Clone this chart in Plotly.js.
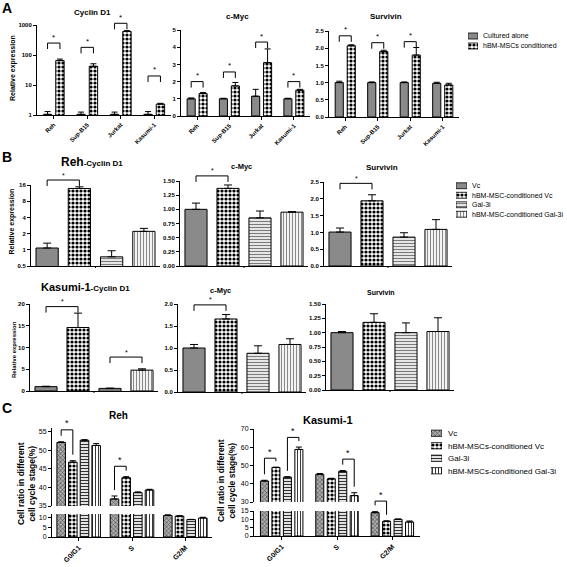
<!DOCTYPE html>
<html><head><meta charset="utf-8">
<script src="https://cdn.plot.ly/plotly-3.0.1.min.js"></script>
<style>html,body{margin:0;padding:0;background:#fff;}#chart{width:567px;height:567px;}</style>
</head><body><div id="chart"></div>
<script>
// ================= DATA =================
// Panel A
const cellLines = ["Reh","Sup-B15","Jurkat","Kasumi-1"];
const groupsA = ["Cultured alone","hBM-MSCs conditioned"];
const aCyclinAlone = [1.05,1.05,1.05,1.05];
const aCyclinAloneErr = [0.25,0.2,0.2,0.25];
const aCyclinCond = [65,42,610,2.3];
const aCyclinCondErr = [8,9,40,0.15];
const aMycAlone = [1.0,1.0,1.15,1.0];
const aMycAloneErr = [0.05,0.03,0.4,0.03];
const aMycCond = [1.3,1.75,3.1,1.5];
const aMycCondErr = [0.07,0.2,0.8,0.05];
const aSurvAlone = [1.0,1.0,1.0,0.98];
const aSurvAloneErr = [0.04,0.02,0.02,0.03];
const aSurvCond = [2.07,1.9,1.8,0.93];
const aSurvCondErr = [0.03,0.04,0.22,0.05];
// significance: [cell line index, bracket level]
const aCyclinSig = [[0,250],[1,180],[2,1140],[3,20]];
const aMycSig = [[0,2.0],[1,2.56],[2,4.3],[3,2.0]];
const aSurvSig = [[0,2.36],[1,2.16],[2,2.19]];

// Panel B
const groupsB = ["Vc","hBM-MSC-conditioned Vc","Gal-3i","hBM-MSC-conditioned Gal-3i"];
const bRehCyclin = [1.08,13.8,0.74,2.2];
const bRehCyclinErr = [0.25,1.0,0.22,0.3];
const bRehMyc = [1.0,1.37,0.85,0.95];
const bRehMycErr = [0.11,0.06,0.12,0.01];
const bRehSurv = [1.01,1.94,0.86,1.09];
const bRehSurvErr = [0.12,0.18,0.13,0.29];
const bKasCyclin = [1.0,14.6,0.6,4.8];
const bKasCyclinErr = [0.1,3.3,0.05,0.3];
const bKasMyc = [1.0,1.66,0.88,1.08];
const bKasMycErr = [0.08,0.1,0.17,0.13];
const bKasSurv = [1.0,1.18,1.0,1.02];
const bKasSurvErr = [0.02,0.15,0.17,0.24];
// significance: [bar a, bar b, level]
const bRehCyclinSig = [[0,1,19.8]];
const bRehMycSig = [[0,1,1.59]];
const bRehSurvSig = [[0,1,2.46]];
const bKasCyclinSig = [[0,1,19.4],[2,3,7.8]];
const bKasMycSig = [[0,1,1.98]];

// Panel C
const phases = ["G0/G1","S","G2/M"];
const groupsC = ["Vc","hBM-MSCs-conditioned Vc","Gal-3i","hBM-MSCs-conditioned Gal-3i"];
const cRehVc = [52.1,36.9,11.2];
const cRehVcErr = [0.2,0.8,0.4];
const cRehCondVc = [46.8,42.6,10.9];
const cRehCondVcErr = [0.4,0.3,0.2];
const cRehGal = [52.7,38.6,9.1];
const cRehGalErr = [0.15,0.2,0.1];
const cRehCondGal = [51.3,39.3,9.9];
const cRehCondGalErr = [0.5,0.2,0.4];
const cKasVc = [41.5,45.2,14.0];
const cKasVcErr = [0.4,0.4,0.8];
const cKasCondVc = [48.9,42.7,8.8];
const cKasCondVcErr = [0.2,0.3,0.3];
const cKasGal = [43.6,46.8,10.0];
const cKasGalErr = [0.2,0.4,0.2];
const cKasCondGal = [58.8,33.5,8.4];
const cKasCondGalErr = [1.3,1.6,0.6];
// significance: [phase index, bar a, bar b, level]
const cRehSig = [[0,0,1,55.5],[1,0,1,45.7]];
const cKasSig = [[0,0,1,54],[0,2,3,65.4],[1,2,3,53.5],[2,0,1,30.5]];

// ================= STYLE / LAYOUT HELPERS =================
const W = 567, H = 567;
const FONT = '"Liberation Sans", Arial, sans-serif';
const X = p => p / W, Y = p => 1 - p / H;
const layout = {width:W, height:H, margin:{l:0,r:0,t:0,b:0}, paper_bgcolor:'#fff', plot_bgcolor:'rgba(0,0,0,0)',
  showlegend:false, barmode:'overlay', annotations:[], shapes:[], font:{family:FONT, color:'#000'}};
const traces = [];
const S = {
  grey:{color:'#8a8a8a'},
  checker:{color:'#ffffff', pattern:{shape:'.', fgcolor:'#000000', bgcolor:'#ffffff', size:4, solidity:0.5}},
  hlines:{color:'#e4e4e4', pattern:{shape:'-', fgcolor:'#7a7a7a', bgcolor:'#e6e6e6', size:3, solidity:0.35}},
  vlines:{color:'#f0f0f0', pattern:{shape:'|', fgcolor:'#8a8a8a', bgcolor:'#f3f3f3', size:3, solidity:0.35}},
  crossGrey:{color:'#a0a0a0', pattern:{shape:'x', fgcolor:'#555555', bgcolor:'#ababab', size:3, solidity:0.4}},
  hlinesC:{color:'#dddddd', pattern:{shape:'-', fgcolor:'#333333', bgcolor:'#e2e2e2', size:3, solidity:0.35}},
  vlinesC:{color:'#ffffff', pattern:{shape:'|', fgcolor:'#222222', bgcolor:'#ffffff', size:3, solidity:0.3}}
};
const axBase = {showline:true, linecolor:'#000', linewidth:1, ticks:'outside', ticklen:3, tickwidth:1, tickcolor:'#000',
  showgrid:false, zeroline:false, fixedrange:true};
let axN = 0;
function newAxes(xDom, yDom, xo, yo){
  axN++;
  const xk = axN===1?'xaxis':'xaxis'+axN, yk = axN===1?'yaxis':'yaxis'+axN;
  const xr = axN===1?'x':'x'+axN, yr = axN===1?'y':'y'+axN;
  layout[xk] = Object.assign({domain:xDom, anchor:yr}, xo);
  layout[yk] = Object.assign({domain:yDom, anchor:xr}, yo);
  return {x:xr, y:yr};
}
const errBar = (err, w) => ({type:'data', symmetric:false, array:err, arrayminus:err.map(()=>0), color:'#000', thickness:1, width:w, visible:true});
function linTicks(dtick, fmt){ return {tickmode:'linear', tick0:0, dtick:dtick, tickformat:fmt}; }

function buildPanel(cfg){
  const n = cfg.cats.length, m = cfg.series.length;
  const slot = cfg.perCat ? cfg.gw : cfg.gw/m;
  cfg.center = j => cfg.perCat ? 0 : (-cfg.gw/2 + slot*(j+0.5));
  cfg.segs.forEach((sg, si) => {
    const bottom = si === cfg.segs.length-1;
    const xcat = {type:'category', categoryarray:cfg.cats, categoryorder:'array', range:[-0.5, n-0.5]};
    const xo = bottom ? Object.assign({}, axBase, xcat, {tickfont:cfg.xtickfont, tickangle:cfg.xtickangle,
        showticklabels:!cfg.hideX, ticks:cfg.hideX?'':'outside'})
      : Object.assign({}, xcat, {visible:false, fixedrange:true});
    const yo = Object.assign({}, axBase, {type:sg.log?'log':'linear', range:sg.range, tickfont:cfg.ytickfont}, sg.ticks);
    const ref = newAxes([X(cfg.xpx[0]), X(cfg.xpx[1])], [Y(sg.ypx[1]), Y(sg.ypx[0])], xo, yo);
    cfg.series.forEach((s, j) => {
      traces.push({type:'bar', x: cfg.perCat ? [cfg.cats[j]] : cfg.cats, y: s.y, xaxis:ref.x, yaxis:ref.y,
        width:cfg.bw, offset:cfg.center(j) - cfg.bw/2,
        marker:Object.assign({line:{color:'#000', width:1}}, s.style),
        error_y:errBar(s.err, cfg.errW), hoverinfo:'skip', showlegend:false});
    });
  });
  if (cfg.perCat){ // small middle tick as in the original figure
    const mid = (cfg.xpx[0]+cfg.xpx[1])/2, yb = cfg.segs[cfg.segs.length-1].ypx[1];
    layout.shapes.push({type:'line', xref:'paper', yref:'paper', x0:X(mid), x1:X(mid), y0:Y(yb), y1:Y(yb+2), line:{color:'#000', width:1}});
  }
  (cfg.sig||[]).forEach(sg => drawSig(cfg, sg.a, sg.b, sg.level));
}
function yPx(cfg, v){
  let sg = cfg.segs[0];
  for (let i = cfg.segs.length-1; i >= 0; i--){
    const s = cfg.segs[i]; const hi = s.log ? Math.pow(10, s.range[1]) : s.range[1];
    if (v <= hi){ sg = s; break; }
  }
  const t = sg.log ? Math.log10(v) : v;
  return sg.ypx[1] - (t - sg.range[0])/(sg.range[1]-sg.range[0])*(sg.ypx[1]-sg.ypx[0]);
}
function xPx(cfg, c, j){
  const n = cfg.cats.length;
  return cfg.xpx[0] + (c + 0.5 + cfg.center(j))/n*(cfg.xpx[1]-cfg.xpx[0]);
}
function barTop(cfg, c, j){
  const s = cfg.series[j]; const k = cfg.perCat ? 0 : c;
  return s.y[k] + s.err[k];
}
function drawSig(cfg, a, b, level){
  const yb = yPx(cfg, level);
  const xa = xPx(cfg, a[0], a[1]), xb = xPx(cfg, b[0], b[1]);
  let la, lb;
  if (cfg.legs === 'bar'){
    la = Math.max(yb+3, yPx(cfg, barTop(cfg, a[0], a[1])) - 6);
    lb = Math.max(yb+3, yPx(cfg, barTop(cfg, b[0], b[1])) - 6);
  } else { la = lb = yb + cfg.legLen; }
  layout.shapes.push({type:'path', xref:'paper', yref:'paper',
    path:`M${X(xa)},${Y(la)} L${X(xa)},${Y(yb)} L${X(xb)},${Y(yb)} L${X(xb)},${Y(lb)}`, line:{color:'#000', width:1}});
  layout.annotations.push({xref:'paper', yref:'paper', x:X((xa+xb)/2), y:Y(yb-0.5), xanchor:'center', yanchor:'bottom',
    text:'*', showarrow:false, borderpad:0, font:{family:FONT, size:cfg.starSize||8, color:'#000'}});
}
function buildLegend(cfg){
  const n = cfg.labels.length;
  const ref = newAxes([X(cfg.xpx[0]), X(cfg.xpx[1])], [Y(cfg.ypx[1]), Y(cfg.ypx[0])],
    {range:[0,1], visible:false, fixedrange:true},
    {type:'category', categoryarray:cfg.labels, categoryorder:'array', range:[n-0.5,-0.5], side:'right', showline:false,
     showgrid:false, zeroline:false, ticks:'', ticklabelstandoff:cfg.standoff, fixedrange:true,
     tickfont:{family:FONT, size:cfg.font, color:'#000'}});
  cfg.labels.forEach((lab, j) => traces.push({type:'bar', orientation:'h', x:[1], y:[lab], width:cfg.bw, offset:-cfg.bw/2,
    xaxis:ref.x, yaxis:ref.y, marker:Object.assign({line:{color:'#000', width:0.8}}, cfg.styles[j]), hoverinfo:'skip', showlegend:false}));
}
function text(t, x, y, size, opts){
  layout.annotations.push(Object.assign({xref:'paper', yref:'paper', x:X(x), y:Y(y), xanchor:'center', yanchor:'middle',
    text:t, showarrow:false, font:{family:FONT, size:size, color:'#000'}}, opts||{}));
}

// ================= PANEL A =================
const tfA = {family:FONT, size:6, color:'#000', weight:'bold'};
const aSig = arr => arr.map(([c,l]) => ({a:[c,0], b:[c,1], level:l}));
const aCommon = {cats:cellLines, gw:0.74, bw:0.25, errW:3, xtickfont:tfA, ytickfont:tfA, xtickangle:-45, legs:'fixed', legLen:6};
buildPanel(Object.assign({}, aCommon, {xpx:[37,171],
  segs:[{ypx:[25,115], range:[0,3], log:true, ticks:{tickmode:'array', tickvals:[1,10,100,1000], ticktext:['1','10','100','1000']}}],
  series:[{y:aCyclinAlone, err:aCyclinAloneErr, style:S.grey},{y:aCyclinCond, err:aCyclinCondErr, style:S.checker}],
  sig:aSig(aCyclinSig)}));
buildPanel(Object.assign({}, aCommon, {xpx:[181,310],
  segs:[{ypx:[30,116], range:[0,5], ticks:linTicks(1,'d')}],
  series:[{y:aMycAlone, err:aMycAloneErr, style:S.grey},{y:aMycCond, err:aMycCondErr, style:S.checker}],
  sig:aSig(aMycSig)}));
buildPanel(Object.assign({}, aCommon, {xpx:[329,459],
  segs:[{ypx:[31,117], range:[0,2.5], ticks:linTicks(0.5,'.1f')}],
  series:[{y:aSurvAlone, err:aSurvAloneErr, style:S.grey},{y:aSurvCond, err:aSurvCondErr, style:S.checker}],
  sig:aSig(aSurvSig)}));
buildLegend({labels:groupsA, styles:[S.grey, S.checker], xpx:[468,478], ypx:[31,51], bw:0.6, font:7, standoff:4});
text('<b>A</b>', 7, 8, 14);
text('<b>Cyclin D1</b>', 92, 13, 8);
text('<b>c-Myc</b>', 237, 16, 8);
text('<b>Survivin</b>', 386, 17, 8);
text('<b>Relative expression</b>', 13, 68, 7, {textangle:-90});

// ================= PANEL B =================
const bStyles = [S.grey, S.checker, S.hlines, S.vlines];
const bSeries = (vals, errs) => vals.map((v,j) => ({y:[v], err:[errs[j]], style:bStyles[j]}));
const bSig = arr => arr.map(([a,b,l]) => ({a:[a,a], b:[b,b], level:l}));
const bCommon = {cats:groupsB, perCat:true, gw:0.69, bw:0.69, errW:4, hideX:true, ytickfont:tfA, legs:'fixed', legLen:6, starSize:7};
buildPanel(Object.assign({}, bCommon, {xpx:[31,160],
  segs:[{ypx:[185,266], range:[Math.log10(0.5), Math.log10(16)], log:true,
    ticks:{tickmode:'array', tickvals:[0.5,1,2,4,8,16], ticktext:['0.5','1','2','4','8','16']}}],
  series:bSeries(bRehCyclin, bRehCyclinErr), sig:bSig(bRehCyclinSig)}));
buildPanel(Object.assign({}, bCommon, {xpx:[180,308],
  segs:[{ypx:[181,266], range:[0,1.5], ticks:linTicks(0.25,'.2f')}],
  series:bSeries(bRehMyc, bRehMycErr), sig:bSig(bRehMycSig)}));
buildPanel(Object.assign({}, bCommon, {xpx:[324,452],
  segs:[{ypx:[182,266], range:[0,2.5], ticks:linTicks(0.5,'.1f')}],
  series:bSeries(bRehSurv, bRehSurvErr), sig:bSig(bRehSurvSig)}));
buildPanel(Object.assign({}, bCommon, {xpx:[30,158],
  segs:[{ypx:[304,391], range:[0,20], ticks:linTicks(5,'d')}],
  series:bSeries(bKasCyclin, bKasCyclinErr), sig:bSig(bKasCyclinSig)}));
buildPanel(Object.assign({}, bCommon, {xpx:[178,306],
  segs:[{ypx:[304,392], range:[0,2], ticks:linTicks(0.5,'.1f')}],
  series:bSeries(bKasMyc, bKasMycErr), sig:bSig(bKasMycSig)}));
buildPanel(Object.assign({}, bCommon, {xpx:[326,454],
  segs:[{ypx:[304,390], range:[0,1.5], ticks:linTicks(0.25,'.2f')}],
  series:bSeries(bKasSurv, bKasSurvErr), sig:[]}));
buildLegend({labels:groupsB, styles:bStyles, xpx:[456,467], ypx:[181,219], bw:0.62, font:7, standoff:4});
text('<b>B</b>', 7, 157, 14);
text('<b><span style="font-size:12px">Reh</span>-Cyclin D1</b>', 92, 162, 8);
text('<b>c-Myc</b>', 241, 166, 7.5);
text('<b>Survivin</b>', 382, 167, 8);
text('<b><span style="font-size:11px">Kasumi-1</span>-Cyclin D1</b>', 85, 287, 8);
text('<b>c-Myc</b>', 220, 290, 7.5);
text('<b>Survivin</b>', 381, 292, 7);
text('<b>Relative expression</b>', 11.5, 222, 7, {textangle:-90});
text('<b>Relative expression</b>', 14, 350, 6, {textangle:-90});

// ================= PANEL C =================
const cStyles = [S.crossGrey, S.checker, S.hlinesC, S.vlinesC];
const tfC = {family:FONT, size:7, color:'#000'};
const tfCx = {family:FONT, size:7, color:'#000', weight:'bold'};
const cSig = arr => arr.map(([c,a,b,l]) => ({a:[c,a], b:[c,b], level:l}));
const cCommon = {cats:phases, errW:3, xtickfont:tfCx, ytickfont:tfC, xtickangle:-45, legs:'bar', starSize:9};
buildPanel(Object.assign({}, cCommon, {xpx:[52,212], gw:0.875, bw:0.16,
  segs:[{ypx:[428,506], range:[35,56], ticks:{tickmode:'array', tickvals:[35,40,45,50,55]}},
        {ypx:[514,537], range:[0,12], ticks:{tickmode:'array', tickvals:[0,5,10]}}],
  series:[{y:cRehVc, err:cRehVcErr, style:cStyles[0]},{y:cRehCondVc, err:cRehCondVcErr, style:cStyles[1]},
          {y:cRehGal, err:cRehGalErr, style:cStyles[2]},{y:cRehCondGal, err:cRehCondGalErr, style:cStyles[3]}],
  sig:cSig(cRehSig)}));
buildPanel(Object.assign({}, cCommon, {xpx:[254,420], gw:0.83, bw:0.145,
  segs:[{ypx:[429,502], range:[30,70], ticks:{tickmode:'array', tickvals:[30,40,50,60,70]}},
        {ypx:[511,536], range:[0,15], ticks:{tickmode:'array', tickvals:[0,5,10,15]}}],
  series:[{y:cKasVc, err:cKasVcErr, style:cStyles[0]},{y:cKasCondVc, err:cKasCondVcErr, style:cStyles[1]},
          {y:cKasGal, err:cKasGalErr, style:cStyles[2]},{y:cKasCondGal, err:cKasCondGalErr, style:cStyles[3]}],
  sig:cSig(cKasSig)}));
buildLegend({labels:groupsC, styles:cStyles, xpx:[431,442], ypx:[427,477], bw:0.5, font:8, standoff:5});
text('<b>C</b>', 7, 408, 14);
text('<b>Reh</b>', 118, 415, 10);
text('<b>Kasumi-1</b>', 328, 420, 11);
text('<b>Cell ratio in different<br>cell cycle stage(%)</b>', 26, 484, 8.5, {textangle:-90});
text('<b>Cell ratio in different<br>cell cycle stage(%)</b>', 226, 481, 8.5, {textangle:-90});

Plotly.newPlot('chart', traces, layout, {displayModeBar:false, staticPlot:true});
</script>
</body></html>
